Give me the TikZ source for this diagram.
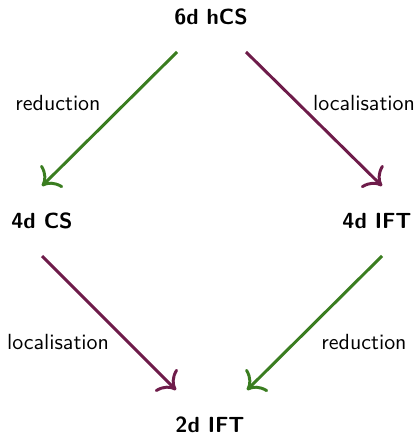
\documentclass[tikz,border=0pt]{standalone}
\usetikzlibrary{calc,arrows.meta}
\definecolor{redgreen}{RGB}{58,125,32}
\definecolor{locpurple}{RGB}{110,28,74}
\begin{document}
\begin{tikzpicture}[x=0.4545bp,y=-0.4545bp,
  obj/.style={font=\sffamily\bfseries, inner sep=0pt},
  lab/.style={font=\sffamily, inner sep=0pt},
  redarrow/.style={draw=redgreen, line width=1.35pt, -{To[scale=1.5]}},
  locarrow/.style={draw=locpurple, line width=1.35pt, -{To[scale=1.5]}}]
\useasboundingbox (0,0) rectangle (419,435);
\node[obj] (hcs) at (211,17) {6d hCS};
\node[obj] (cs) at (42,221) {4d CS};
\node[obj] (ift4) at (377,221) {4d IFT};
\node[obj] (ift2) at (210,425) {2d IFT};
\node[lab] (l1) at (58,103) {reduction};
\node[lab] (l2) at (364,103) {localisation};
\node[lab] (l3) at (58,342) {localisation};
\node[lab] (l4) at (364,342) {reduction};
\draw[redarrow] ($(hcs)+(-34,35)$) -- ($(cs)+(0,-35)$);
\draw[locarrow] ($(hcs)+(35,35)$) -- ($(ift4)+(5,-35)$);
\draw[locarrow] ($(cs)+(0,35)$) -- ($(ift2)+(-34,-35)$);
\draw[redarrow] ($(ift4)+(5,35)$) -- ($(ift2)+(37,-35)$);
\end{tikzpicture}
\end{document}
